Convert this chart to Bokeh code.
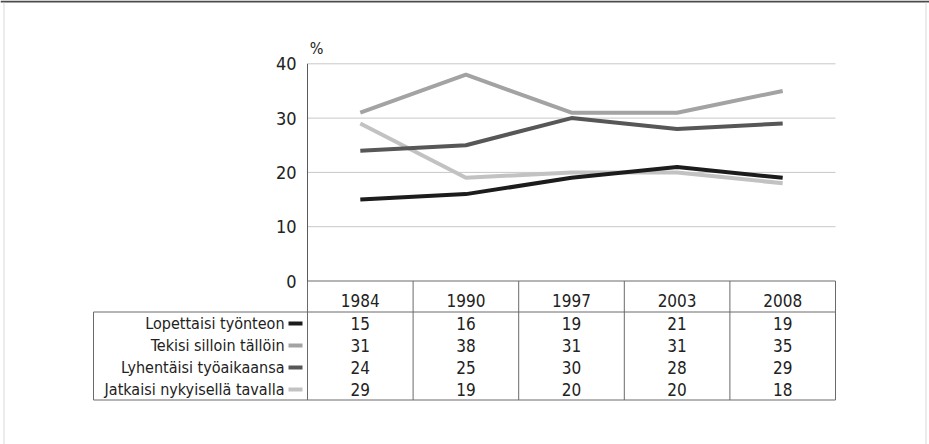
from bokeh.plotting import figure
from bokeh.models import Range1d
from bokeh.core.properties import value
from bokeh.embed import file_html
from bokeh.resources import INLINE

# ---------------- data ----------------
years = ["1984", "1990", "1997", "2003", "2008"]
series_names = ["Lopettaisi työnteon", "Tekisi silloin tällöin",
                "Lyhentäisi työaikaansa", "Jatkaisi nykyisellä tavalla"]
lopettaisi = [15, 16, 19, 21, 19]
tekisi = [31, 38, 31, 31, 35]
lyhentaisi = [24, 25, 30, 28, 29]
jatkaisi = [29, 19, 20, 20, 18]
y_ticks = [0, 10, 20, 30, 40]
unit_label = "%"

series_values = [lopettaisi, tekisi, lyhentaisi, jatkaisi]
series_colors = ["#1c1c1c", "#a3a3a3", "#575757", "#c2c2c2"]

# ---------------- layout (canvas pixels) ----------------
W, H = 929, 444
AX_X = 307.0            # y-axis position
COL_W = 105.6           # width of one year column
ZERO_Y = 280.5          # pixel row of value 0
PX_PER_UNIT = 5.43      # pixels per percentage point
TABLE_LEFT = 93.0
HEADER_BOTTOM = 311.5
ROW_H = 22.0
TABLE_BOTTOM = HEADER_BOTTOM + 4 * ROW_H

FONT = value("DejaVu Sans Condensed, Liberation Sans")
TXT = "#222222"


def fx(px):
    return (px - AX_X) / COL_W


def fy(py):
    return (ZERO_Y - py) / PX_PER_UNIT


p = figure(width=W, height=H,
           x_range=Range1d(fx(0), fx(W)), y_range=Range1d(fy(H), fy(0)),
           x_axis_type=None, y_axis_type=None,
           output_backend="svg", toolbar_location=None, min_border=0)
p.outline_line_color = None
p.background_fill_color = "white"
p.border_fill_color = "white"

n = len(years)
xs = [i + 0.5 for i in range(n)]

# page frame
p.segment(x0=[fx(0)], x1=[fx(W)], y0=[fy(1)], y1=[fy(1)], line_color="#4a4a4a", line_width=2)
p.segment(x0=[fx(3.5), fx(925.5)], x1=[fx(3.5), fx(925.5)],
          y0=[fy(2), fy(2)], y1=[fy(H), fy(H)], line_color="#d8d8d8", line_width=1)

# grid lines
grid_vals = [v for v in y_ticks if v > 0]
p.segment(x0=[0] * len(grid_vals), x1=[n] * len(grid_vals), y0=grid_vals, y1=grid_vals,
          line_color="#c8c8c8", line_width=1)

# tick labels
p.text(x=[fx(296)] * len(y_ticks), y=y_ticks, text=[str(v) for v in y_ticks],
       text_align="right", text_baseline="middle", text_font=FONT,
       text_font_size="18px", text_color=TXT)
p.text(x=[fx(316)], y=[fy(48)], text=[unit_label], text_align="center",
       text_baseline="middle", text_font=FONT, text_font_size="16px", text_color=TXT)

# table lines
TL = "#6a6a6a"
yb = fy(TABLE_BOTTOM)
yh = fy(HEADER_BOTTOM)
p.segment(x0=[0, fx(TABLE_LEFT), fx(TABLE_LEFT)], x1=[n, n, n],
          y0=[0, yh, yb], y1=[0, yh, yb], line_color=TL, line_width=1)
p.segment(x0=[fx(TABLE_LEFT)], x1=[fx(TABLE_LEFT)], y0=[yh], y1=[yb], line_color=TL, line_width=1)
p.segment(x0=list(range(n + 1)), x1=list(range(n + 1)), y0=[0] * (n + 1), y1=[yb] * (n + 1),
          line_color=TL, line_width=1)
p.segment(x0=[0], x1=[0], y0=[0], y1=[y_ticks[-1]], line_color="#5a5a5a", line_width=1)

# header years
p.text(x=xs, y=[fy(300)] * n, text=years, text_align="center", text_baseline="middle",
       text_font=FONT, text_font_size="17px", text_color=TXT)

# series lines
order = [3, 1, 2, 0]
for k in order:
    p.line(x=xs, y=series_values[k], line_color=series_colors[k], line_width=4)

# table rows
for k, name in enumerate(series_names):
    cy = fy(HEADER_BOTTOM + ROW_H * (k + 0.5) + 0.5)
    p.text(x=[fx(284)], y=[cy], text=[name], text_align="right", text_baseline="middle",
           text_font=FONT, text_font_size="16px", text_color=TXT)
    p.segment(x0=[fx(288)], x1=[fx(302)], y0=[cy], y1=[cy],
              line_color=series_colors[k], line_width=4)
    p.text(x=xs, y=[cy] * n, text=[str(v) for v in series_values[k]], text_align="center",
           text_baseline="middle", text_font=FONT, text_font_size="17px", text_color=TXT)

open("out.html", "w").write(file_html(p, INLINE))
